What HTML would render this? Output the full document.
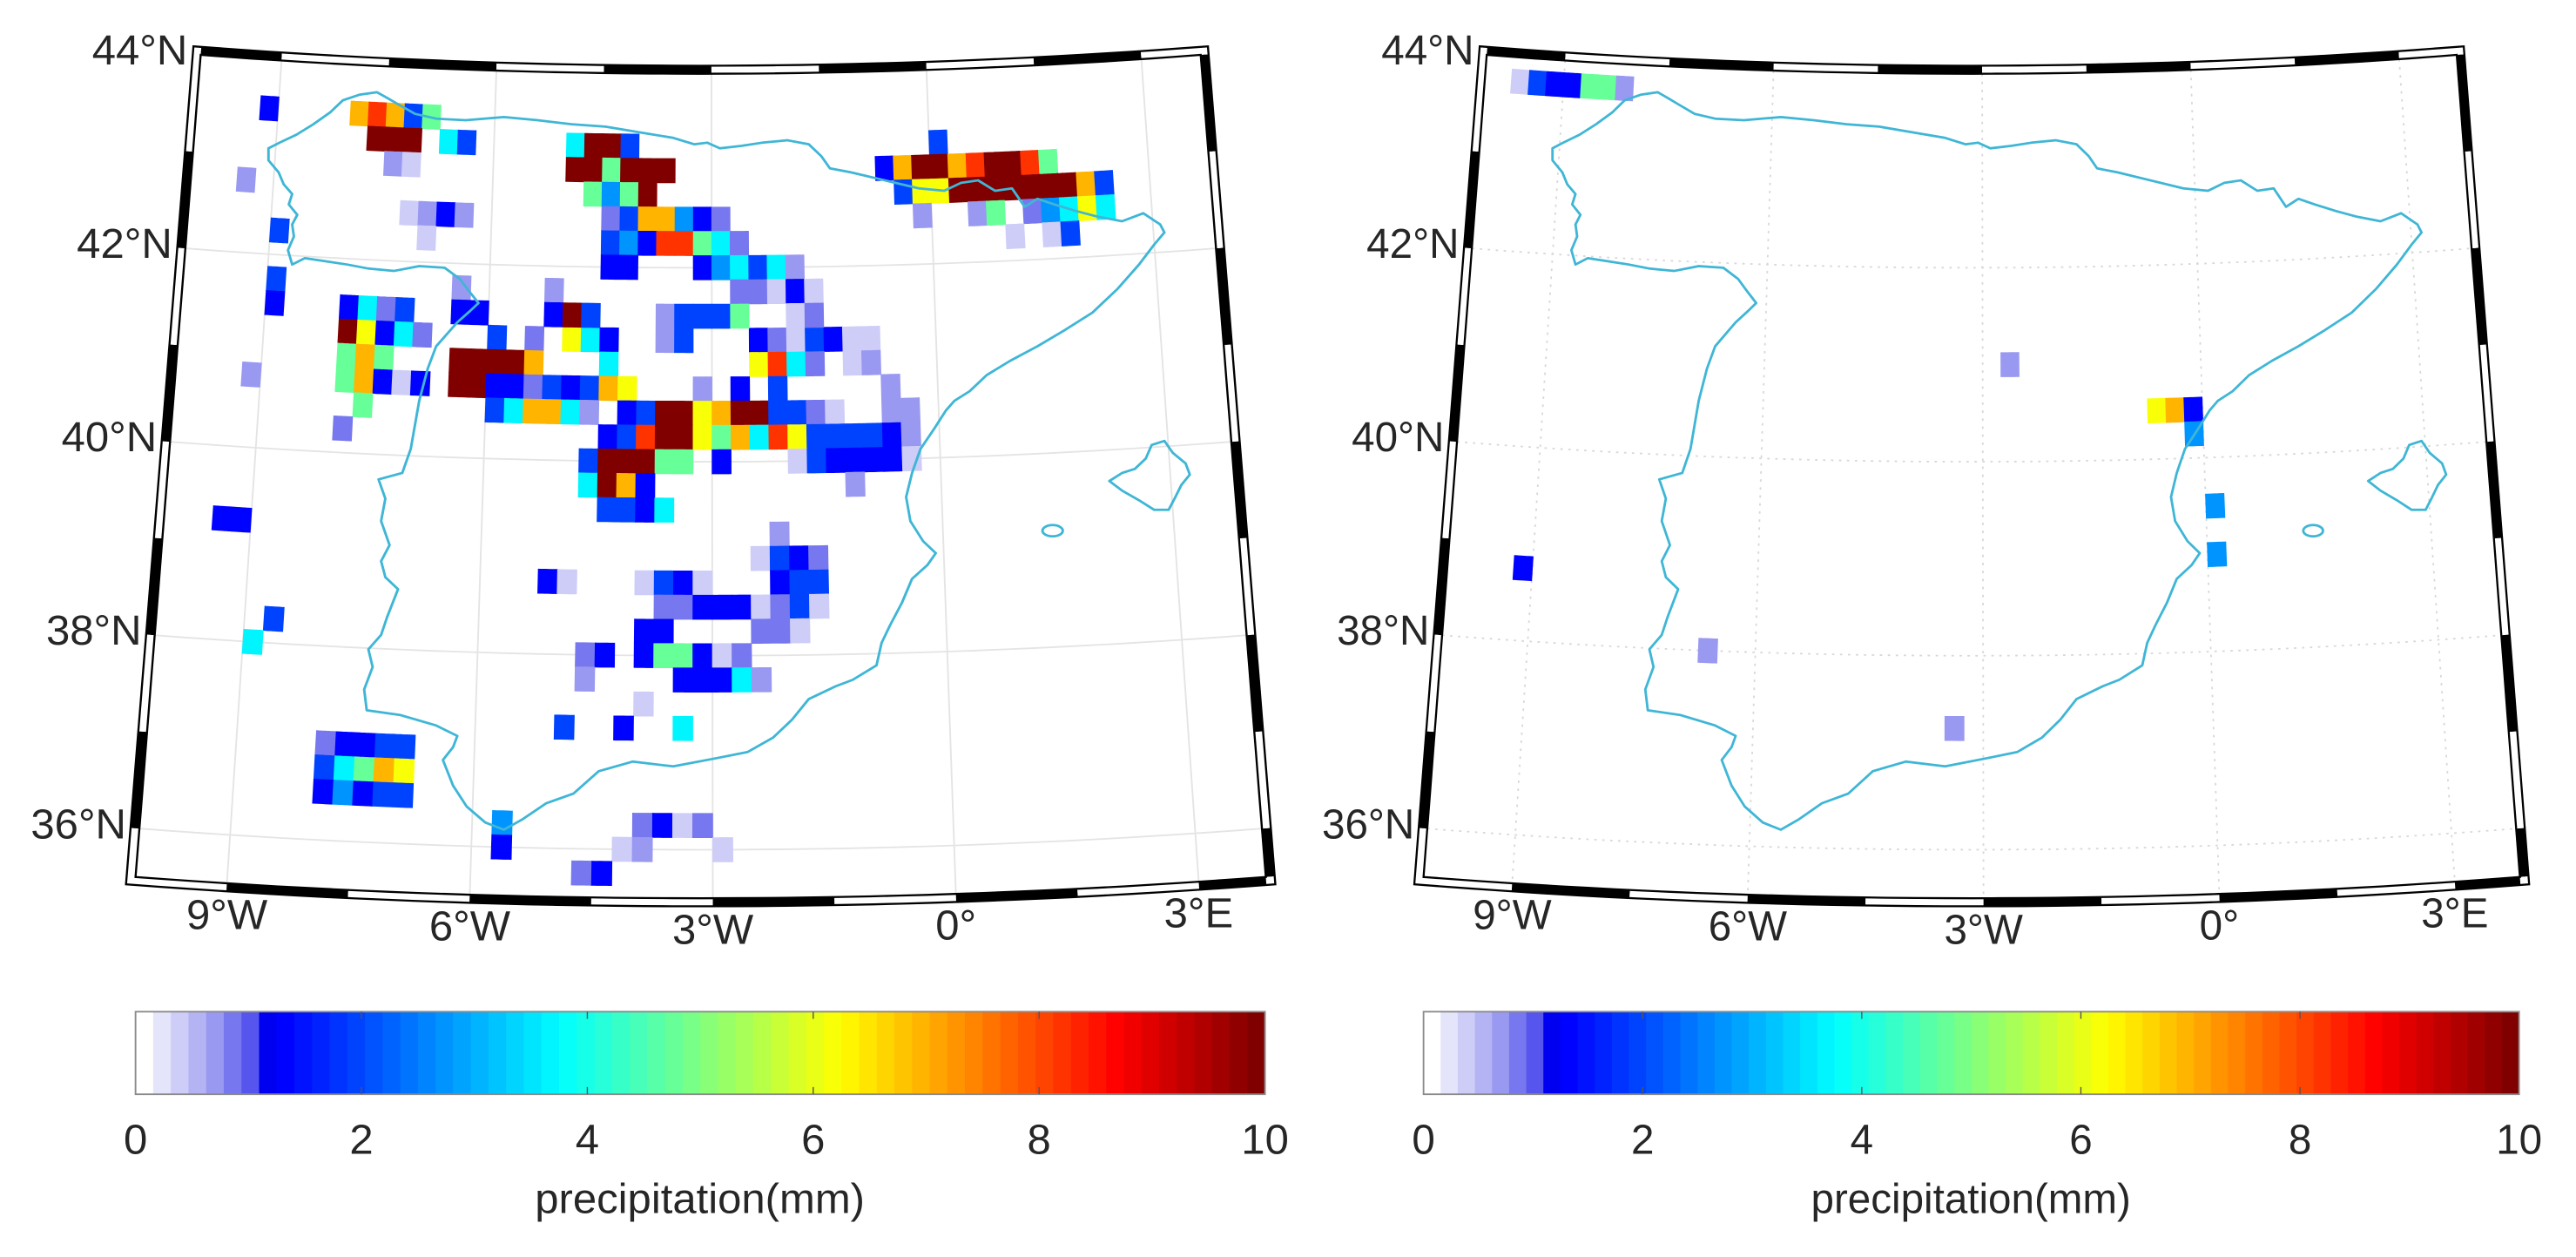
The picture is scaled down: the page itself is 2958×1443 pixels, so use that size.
<!DOCTYPE html>
<html><head><meta charset="utf-8"><title>Precipitation maps</title>
<style>
html,body{margin:0;padding:0;background:#fff;}
svg{display:block;}
text{font-family:"Liberation Sans",Arial,sans-serif;fill:#262626;}
</style></head>
<body>
<svg id="fig" xmlns="http://www.w3.org/2000/svg" width="2958" height="1443" viewBox="0 0 3136 1568" preserveAspectRatio="none">
  <rect x="0" y="0" width="3136" height="1568" fill="#fff"/>
  <g id="panel-left"></g>
  <g id="panel-right" transform="translate(1568,0) translate(165,0) scale(0.97,1) translate(-165,0)"></g>
</svg>
<script>
// ---- colour codes ----
const codeKeys = ["a","b","c","B","D","L","C","G","Y","O","R","K"];
const codeValues = [0.45,0.7,0.9,1.25,2.0,2.8,3.7,4.8,6.1,7.0,8.2,10];
// ---- left panel cells (row latitude, first-cell longitude, codes per 0.25 deg) ----
const leftRunLat = [43.5,43.5,43.25,43.0,42.75,42.5,42.25,42.25,41.75,41.5,41.5,41.25,41.25,41.25,41.0,41.0,41.0,40.75,40.75,40.75,40.75,40.5,40.5,40.25,40.25,40.0,40.0,39.75,39.75,39.5,39.25,39.25,39.0,38.75,38.75,38.75,38.5,38.25,38.25,38.25,38.0,38.0,38.0,37.75,37.75,37.5,37.25,37.25,37.25,37.0,36.75,36.5,36.25,36.25,36.0,36.0,36.0,35.75,43.25,43.0,42.75,42.5,42.25,42.0,41.75,41.75,41.5,41.5,41.5,41.75,41.5,43.25,43.0,42.75,42.5,42.25];
const leftRunLon = [-9.125,-7.875,-7.625,-7.375,-9.375,-7.125,-8.875,-6.875,-8.875,-8.875,-7.875,-7.875,-3.625,-2.375,-7.875,-6.375,-2.375,-9.125,-7.875,-3.125,-0.625,-7.625,-5.875,-7.875,-4.375,-4.625,-1.875,-4.625,-1.125,-4.375,-9.375,-2.125,-2.375,-5.125,-3.875,-2.125,-3.625,-8.625,-3.875,-2.375,-8.875,-4.625,-3.875,-4.625,-3.375,-3.875,-4.875,-4.125,-3.375,-7.875,-7.875,-7.875,-5.625,-3.875,-5.625,-4.125,-2.875,-4.625,-4.875,-4.875,-4.625,-4.375,-4.375,-4.375,-5.125,-2.625,-5.125,-3.625,-1.875,-6.375,-6.375,0.125,-0.625,-0.375,-0.125,1.125];
const leftRunCodes = ["B","ORODG","KKK.CD","ba","b","abBb","D","a","D","B","BCcD","KYBCc...D.c.YCB","bD","BcaDBaa","GOG","KKKKO...C","YRCc.ab","b","GOBaB.KKBBcDBDOY","b.B.D","b","G","DCOOCb.BDKKYOKKDDca..bb","c","BDRKKYGOCRYDDDDBb","DKKKGG.B","aDBBBBa","CKOB","b","DDBC","BB","b","aDBc","Ba","aDBa","BDD","ccBBBacDa","D","BB","cca","C","cB","BGGBac","b","BBBCb","a","D","B","C","cBBDD","DCGOY","BLBDD","L","cBac","B","ab","a","cB","CKKD","KKGKKK","GLGK","cDOOLBc","DLBRRGCc","BB...BLCDCb","b","ccaBa","BKD","bDDDG","ac","b","BB","D","BOKKORKKRG","DYYKKKKKKKOD","b..bG.cLCYC","a.aD"];
// ---- right panel cells ----
const rightRunLat = [43.75,41.0,40.5,40.25,39.5,39.0,38.75,38.0,37.25];
const rightRunLon = [-9.625,-2.625,-0.625,-0.125,0.125,0.125,-9.125,-6.625,-3.375];
const rightRunCodes = ["aDBBGGb","b","YOB","L","L","L","B","b","b"];
// ---- axes ----
const latTicks = [36,38,40,42,44];
const latTickLabels = ["36°N","38°N","40°N","42°N","44°N"];
const lonTicks = [-9,-6,-3,0,3];
const lonTickLabels = ["9°W","6°W","3°W","0°","3°E"];
const cbTicks = [0,2,4,6,8,10];
const CB_MIN = 0, CB_MAX = 10;
const LAT_TOP = 44.0, LAT_BOT = 35.5, LON_L = -10.13, LON_R = 3.83;

const NS = "http://www.w3.org/2000/svg";
function mk(tag, attrs){const e=document.createElementNS(NS,tag);for(const k in attrs)e.setAttribute(k,attrs[k]);return e;}
function proj(lon,lat){const R=7900+(44-lat)*121;const t=(lon+3.15)*0.01105;return [853+R*Math.sin(t),-7808+R*Math.cos(t)];}
function pstr(p){return p[0].toFixed(1)+","+p[1].toFixed(1);}
const lav = ["#ffffff","#e4e4fb","#cdcdf8","#b4b4f5","#9999f2","#7777ef","#5656ee"];
function clamp(v){return Math.max(0,Math.min(1,v));}
function jet(t){const r=clamp(1.5-Math.abs(4*t-3)),g=clamp(1.5-Math.abs(4*t-2)),b=clamp(1.5-Math.abs(4*t-1));return "rgb("+Math.round(r*255)+","+Math.round(g*255)+","+Math.round(b*255)+")";}
function bandColor(i){return i<7?lav[i]:jet(i/63);}
function cmap(v){const i=Math.min(63,Math.max(0,Math.floor((v-CB_MIN)/(CB_MAX-CB_MIN)*64)));return bandColor(i);}
function codeVal(ch){return codeValues[codeKeys.indexOf(ch)];}
function framePath(latT,latB,lonL,lonR){
  const p=[];
  for(let i=0;i<=40;i++)p.push(proj(lonL+(lonR-lonL)*i/40,latT));
  for(let i=0;i<=20;i++)p.push(proj(lonR,latT+(latB-latT)*i/20));
  for(let i=0;i<=40;i++)p.push(proj(lonR-(lonR-lonL)*i/40,latB));
  for(let i=0;i<=20;i++)p.push(proj(lonL,latB+(latT-latB)*i/20));
  return "M"+p.map(pstr).join("L")+"Z";
}
function quad(lon0,lon1,lat0,lat1){
  const p=[];const n=8;
  for(let i=0;i<=n;i++)p.push(proj(lon0+(lon1-lon0)*i/n,lat0));
  for(let i=0;i<=n;i++)p.push(proj(lon1-(lon1-lon0)*i/n,lat1));
  return "M"+p.map(pstr).join("L")+"Z";
}
const coastD="M322,185L335,178L355,168L375,155L395,140L410,125L430,118L450,115L462,122L475,130L495,142L520,148L555,150L600,146L640,150L680,155L720,158L760,165L800,172L825,180L840,178L855,185L880,182L905,178L935,175L960,180L975,195L985,210L1010,215L1050,225L1090,235L1120,238L1140,228L1160,225L1180,238L1200,235L1215,258L1230,248L1250,255L1275,263L1300,270L1330,276L1355,266L1375,280L1380,290L1368,305L1350,330L1325,360L1295,390L1262,412L1230,432L1198,450L1170,468L1150,488L1132,500L1122,512L1108,535L1092,560L1082,590L1075,620L1080,650L1095,675L1110,690L1100,705L1082,722L1070,752L1056,780L1046,802L1040,830L1012,848L992,856L960,872L940,898L918,920L888,938L850,946L800,956L752,950L712,962L682,990L650,1002L622,1022L600,1035L578,1026L556,1006L540,980L528,948L540,932L545,918L520,905L478,892L438,886L435,860L445,832L440,810L455,792L462,770L475,735L460,720L455,700L465,680L455,650L460,622L452,598L480,590L490,560L495,530L500,500L510,460L520,432L545,402L560,388L570,378L558,362L548,348L530,334L500,332L470,338L440,335L415,330L390,326L365,322L350,330L345,312L352,295L350,280L356,268L346,255L350,242L340,230L334,215L322,200Z";
const mallorcaD="M1315,600L1330,590L1345,585L1358,572L1365,555L1380,550L1390,565L1405,578L1410,592L1400,605L1392,622L1385,636L1368,636L1350,624L1330,612Z";

function buildPanel(root, runLat, runLon, runCodes, dotted, pid){
  const defs=mk('defs',{});root.appendChild(defs);
  const cp=mk('clipPath',{id:'clip-'+pid});
  cp.appendChild(mk('path',{d:framePath(LAT_TOP,LAT_BOT,LON_L,LON_R)}));
  defs.appendChild(cp);
  const outerFill=mk('path',{d:framePath(LAT_TOP+0.083,LAT_BOT-0.083,LON_L-0.11,LON_R+0.11),fill:'#fff',stroke:'none'});
  
  
  root.appendChild(outerFill);
  const grid=mk('g',{'clip-path':'url(#clip-'+pid+')',stroke:dotted?'#d8d8d8':'#e4e4e4','stroke-width':2,fill:'none'});
  
  
  if(dotted)grid.setAttribute('stroke-dasharray','3 7');
  root.appendChild(grid);
  latTicks.forEach(function(lt){
    const p=[];for(let i=0;i<=40;i++)p.push(proj(LON_L+(LON_R-LON_L)*i/40,lt));
    const l=mk('path',{d:"M"+p.map(pstr).join("L")});
    
    
    grid.appendChild(l);
  });
  lonTicks.forEach(function(ln){
    const a=proj(ln,LAT_TOP),b=proj(ln,LAT_BOT);
    const l=mk('path',{d:"M"+pstr(a)+"L"+pstr(b)});
    
    
    grid.appendChild(l);
  });
  const cells=mk('g',{'clip-path':'url(#clip-'+pid+')'});
  
  
  root.appendChild(cells);
  for(let r=0;r<runLat.length;r++){
    const s=runCodes[r];
    for(let j=0;j<s.length;j++){
      const ch=s[j];if(ch===".")continue;
      const lon=runLon[r]+0.25*j,lat=runLat[r];
      const c=mk('path',{d:quad(lon-0.125,lon+0.125,lat+0.125,lat-0.125),fill:cmap(codeVal(ch)),stroke:cmap(codeVal(ch)),'stroke-width':0.8});
      
      
      cells.appendChild(c);
    }
  }
  const coast=mk('g',{transform:'translate(165,0) scale(1.0309,1) translate(-165,0)',fill:'none',stroke:'#3fb6d6','stroke-width':3,'stroke-linejoin':'round'});
  
  
  root.appendChild(coast);
  const c1=mk('path',{d:coastD});
  
  
  coast.appendChild(c1);
  const c2=mk('path',{d:mallorcaD});
  
  
  coast.appendChild(c2);
  const c3=mk('ellipse',{cx:1248,cy:662,rx:12,ry:7});
  
  
  coast.appendChild(c3);
  const fr=mk('g',{});
  
  
  root.appendChild(fr);
  const dT=0.083,dL=0.11;
  for(let b=-12;b<6;b+=1.5){
    const a0=Math.max(b,LON_L),a1=Math.min(b+1.5,LON_R);if(a1<=a0)continue;
    const idx=Math.round(b/1.5);const odd=Math.abs(idx)%2===1;
    const t=mk('path',{d:quad(a0,a1,LAT_TOP,LAT_TOP+dT),fill:odd?'#000':'#fff'});
    
    
    fr.appendChild(t);
    const bt=mk('path',{d:quad(a0,a1,LAT_BOT-dT,LAT_BOT),fill:odd?'#fff':'#000'});
    
    
    fr.appendChild(bt);
  }
  for(let k=35;k<44;k++){
    const l0=Math.max(k,LAT_BOT),l1=Math.min(k+1,LAT_TOP);if(l1<=l0)continue;
    const even=k%2===0;
    const lf=mk('path',{d:quad(LON_L-dL,LON_L,l0,l1),fill:even?'#000':'#fff'});
    
    
    fr.appendChild(lf);
    const rt=mk('path',{d:quad(LON_R,LON_R+dL,l0,l1),fill:even?'#fff':'#000'});
    
    
    fr.appendChild(rt);
  }
  const o1=mk('path',{d:framePath(LAT_TOP+dT,LAT_BOT-dT,LON_L-dL,LON_R+dL),fill:'none',stroke:'#000','stroke-width':2.5});
  
  
  fr.appendChild(o1);
  const o2=mk('path',{d:framePath(LAT_TOP,LAT_BOT,LON_L,LON_R),fill:'none',stroke:'#000','stroke-width':2.5});
  
  
  fr.appendChild(o2);
  latTicks.forEach(function(lt,i){
    const p=proj(LON_L,lt);
    const t=mk('text',{x:p[0]-16,y:p[1]+12,'font-size':52,'text-anchor':'end'});
    t.textContent=latTickLabels[i];
    
    
    root.appendChild(t);
  });
  lonTicks.forEach(function(ln,i){
    const p=proj(ln,LAT_BOT);
    const t=mk('text',{x:p[0],y:p[1]+57,'font-size':52,'text-anchor':'middle'});
    t.textContent=lonTickLabels[i];
    
    
    root.appendChild(t);
  });
  const cbx0=165,cbx1=1540,cby0=1262,cby1=1365;
  const cb=mk('g',{});
  
  
  root.appendChild(cb);
  const bw=(cbx1-cbx0)/64;
  for(let i=0;i<64;i++){
    const r=mk('rect',{x:(cbx0+i*bw).toFixed(2),y:cby0,width:(bw+0.8).toFixed(2),height:cby1-cby0,fill:bandColor(i)});
    
    
    cb.appendChild(r);
  }
  const bx=mk('rect',{x:cbx0,y:cby0,width:cbx1-cbx0,height:cby1-cby0,fill:'none',stroke:'#8a8a8a','stroke-width':2});
  
  
  cb.appendChild(bx);
  cbTicks.forEach(function(v){
    const x=cbx0+(v-CB_MIN)/(CB_MAX-CB_MIN)*(cbx1-cbx0);
    if(v>CB_MIN&&v<CB_MAX){
      const tk=mk('path',{d:'M'+x+','+cby1+'L'+x+','+(cby1-9)+'M'+x+','+cby0+'L'+x+','+(cby0+9),stroke:'#555','stroke-width':1.5});
      
      
      cb.appendChild(tk);
    }
    const t=mk('text',{x:x,y:1439,'font-size':52,'text-anchor':'middle'});
    t.textContent=String(v);
    
    
    cb.appendChild(t);
  });
  const ttl=mk('text',{x:852,y:1513,'font-size':52,'text-anchor':'middle'});
  ttl.textContent='precipitation(mm)';
  
  
  cb.appendChild(ttl);
}
buildPanel(document.getElementById('panel-left'),leftRunLat,leftRunLon,leftRunCodes,false,'L');
buildPanel(document.getElementById('panel-right'),rightRunLat,rightRunLon,rightRunCodes,true,'R');
</script>
</body></html>
